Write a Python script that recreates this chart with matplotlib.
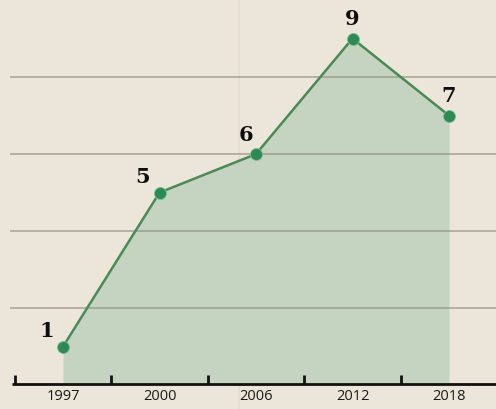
import numpy as np
import matplotlib.pyplot as plt

years = ['1997', '2000', '2006', '2012', '2018']
values = [1, 5, 6, 9, 7]
grid_levels = [2, 4, 6, 8]

bg = '#ece6da'
fill_col = '#c5d3c1'
line_col = '#4a8a55'
dot_col = '#2e8a55'

fig = plt.figure(figsize=(4.96, 4.09), dpi=100, facecolor=bg)
ax = fig.add_axes([0, 0, 1, 1])
ax.set_facecolor(bg)

x = np.arange(len(values))
ax.set_xlim(-0.653, 4.487)
ax.set_ylim(-0.62, 10.0)

# area + line
ax.fill_between(x, values, 0, color=fill_col, lw=0, zorder=1)
for g in grid_levels:
    ax.hlines(g, -0.55, 4.487, color='#958f84', lw=1.1, alpha=0.8, zorder=2)
ax.plot(x, values, color=line_col, lw=1.8, zorder=3)
ax.scatter(x, values, s=75, color=dot_col, edgecolor='#7fbf8f', lw=0.6, zorder=4)

# faint fold in the paper
ax.axvline(1.82, color='#ddd6c8', lw=1.5, alpha=0.5, zorder=0.5)

# value labels
offsets = [(-11.5, 11), (-12, 11), (-7, 14), (0, 14), (0, 14)]
for xi, v, (dx, dy) in zip(x, values, offsets):
    ax.annotate(str(v), (xi, v), xytext=(dx, dy), textcoords='offset points',
                ha='center', va='center', fontsize=15, fontweight='heavy',
                family='DejaVu Serif', color='#0d0d0d', zorder=5)

# bottom axis with ticks between categories
ax.hlines(0.04, -0.53, 4.487, color='#111111', lw=2, zorder=5)
for t in np.arange(-0.5, 4, 1.0):
    ax.vlines(t, 0.04, 0.25, color='#111111', lw=2, zorder=5)
for xi, lab in zip(x, years):
    ax.text(xi, -0.3, lab, ha='center', va='center', fontsize=10.5,
            family='Open Sans', fontweight='medium', color='#1a1a1a')

ax.axis('off')
fig.savefig('out.png', dpi=100, facecolor=bg)
